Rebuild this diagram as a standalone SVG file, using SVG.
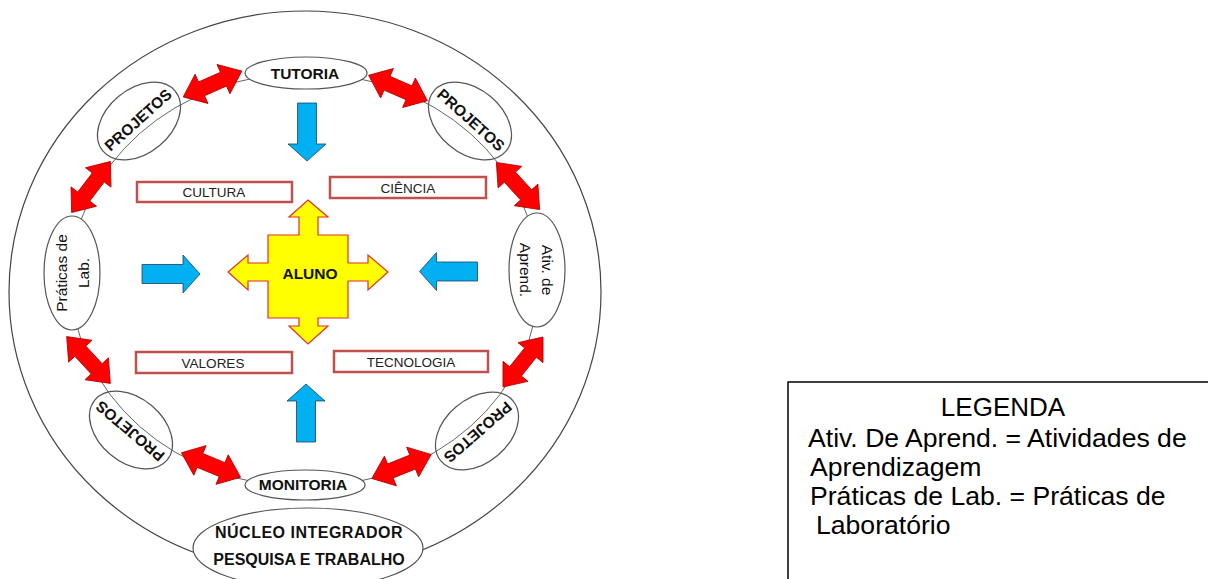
<svg xmlns="http://www.w3.org/2000/svg" xmlns:xlink="http://www.w3.org/1999/xlink" width="1208" height="579" viewBox="0 0 1208 579">
<style>
.node{fill:#fff;stroke:#555;stroke-width:1.2}
.proj{fill:none;stroke:#555;stroke-width:1.2}
.ring{fill:none;stroke:#666;stroke-width:1}
.bold{font-family:"Liberation Sans",Arial,sans-serif;font-weight:bold;font-size:15.5px;fill:#111;text-anchor:middle}
.reg{font-family:"Liberation Sans",Arial,sans-serif;font-size:15.5px;fill:#111;text-anchor:middle}
.box{fill:#fff;stroke:#c0504d;stroke-width:2.5}
.boxt{font-family:"Liberation Sans",Arial,sans-serif;font-size:13.5px;fill:#222;text-anchor:middle}
.red{fill:#ff0000;stroke:#b00000;stroke-width:0.8}
.blue{fill:#00b0f0;stroke:#1f4060;stroke-width:0.8}
.leg{font-family:"Liberation Sans",Arial,sans-serif;font-size:26.6px;fill:#000}
</style>
<defs>
<path id="dbl" d="M -32 0 L -12 -16 L -12 -7.5 L 12 -7.5 L 12 -16 L 32 0 L 12 16 L 12 7.5 L -12 7.5 L -12 16 Z"/>
<path id="blu" d="M -29 -9.5 L 12 -9.5 L 12 -19 L 29 0 L 12 19 L 12 9.5 L -29 9.5 Z"/>
</defs>

<ellipse id="outer" cx="305" cy="292" rx="296" ry="281" fill="none" stroke="#444" stroke-width="1.2"/>
<ellipse class="ring" cx="305" cy="280" rx="234" ry="207"/>

<g id="connectors">
<use xlink:href="#dbl" class="red" transform="translate(212.5,84) rotate(-23.8)"/>
<use xlink:href="#dbl" class="red" transform="translate(398,88) rotate(23.4)"/>
<use xlink:href="#dbl" class="red" transform="translate(518,186) rotate(47.5)"/>
<use xlink:href="#dbl" class="red" transform="translate(523,362) rotate(-51.3)"/>
<use xlink:href="#dbl" class="red" transform="translate(401.5,466.5) rotate(-22)"/>
<use xlink:href="#dbl" class="red" transform="translate(211,465) rotate(22.5)"/>
<use xlink:href="#dbl" class="red" transform="translate(88.5,360) rotate(47)"/>
<use xlink:href="#dbl" class="red" transform="translate(91,187) rotate(-52.8)"/>
<use xlink:href="#blu" class="blue" transform="translate(307,132) rotate(90)"/>
<use xlink:href="#blu" class="blue" transform="translate(306,413) rotate(-90)"/>
<use xlink:href="#blu" class="blue" transform="translate(171,274)"/>
<use xlink:href="#blu" class="blue" transform="translate(448.5,271.5) rotate(180)"/>
</g>

<g id="tutoria">
<ellipse class="node" cx="306" cy="73" rx="61" ry="16"/>
<text class="bold" x="305" y="79">TUTORIA</text>
</g>
<g id="projetos-tl">
<ellipse class="proj" cx="0" cy="0" rx="47" ry="32" transform="translate(139,121) rotate(-40)"/>
<text class="bold" x="0" y="4" transform="translate(139,121) rotate(-42)">PROJETOS</text>
</g>
<g id="projetos-tr">
<ellipse class="proj" cx="0" cy="0" rx="47" ry="32" transform="translate(470,121) rotate(40)"/>
<text class="bold" x="0" y="4" transform="translate(470,121) rotate(42)">PROJETOS</text>
</g>
<g id="praticas">
<ellipse class="node" cx="72" cy="273" rx="28" ry="57"/>
<text class="reg" transform="translate(72,273) rotate(-90)"><tspan x="0" y="-5">Práticas de</tspan><tspan x="0" y="17">Lab.</tspan></text>
</g>
<g id="ativ">
<ellipse class="node" cx="537" cy="270" rx="28" ry="57"/>
<text class="reg" transform="translate(537,270) rotate(90)"><tspan x="0" y="-5">Ativ. de</tspan><tspan x="0" y="17">Aprend.</tspan></text>
</g>
<g id="projetos-bl">
<ellipse class="proj" cx="0" cy="0" rx="47" ry="32" transform="translate(131,430) rotate(40)"/>
<text class="bold" x="0" y="4" transform="translate(131,430) rotate(220)">PROJETOS</text>
</g>
<g id="projetos-br">
<ellipse class="proj" cx="0" cy="0" rx="47" ry="32" transform="translate(477,431) rotate(-40)"/>
<text class="bold" x="0" y="4" transform="translate(477,431) rotate(139)">PROJETOS</text>
</g>
<g id="monitoria">
<ellipse class="node" cx="305" cy="485" rx="60" ry="15"/>
<text class="bold" x="303" y="490">MONITORIA</text>
</g>
<g id="nucleo">
<ellipse class="node" cx="308" cy="548" rx="115" ry="40"/>
<text class="bold" x="309" y="538" style="font-size:16px;letter-spacing:0.5px">NÚCLEO INTEGRADOR</text>
<text class="bold" x="309" y="565" style="font-size:16px">PESQUISA E TRABALHO</text>
</g>

<g id="cultura"><rect class="box" x="137" y="182" width="155" height="20"/><text class="boxt" x="214" y="197">CULTURA</text></g>
<g id="ciencia"><rect class="box" x="330" y="177" width="156" height="21"/><text class="boxt" x="408" y="193">CIÊNCIA</text></g>
<g id="valores"><rect class="box" x="136" y="352" width="156" height="21"/><text class="boxt" x="213" y="368">VALORES</text></g>
<g id="tecnologia"><rect class="box" x="334" y="351" width="154" height="21"/><text class="boxt" x="411" y="367">TECNOLOGIA</text></g>

<g id="aluno">
<polygon fill="#ffff00" stroke="#e0302a" stroke-width="1.2" points="308,200 328,217 318,217 318,235 348,235 348,263 368,263 368,255 388,272 368,290 368,281 348,281 348,318 318,318 318,326 328,326 308,344 289,326 299,326 299,318 268,318 268,281 248,281 248,290 228,272 248,255 248,263 268,263 268,235 299,235 299,217 289,217"/>
<text class="bold" x="310" y="279">ALUNO</text>
</g>

<g id="legenda">
<rect x="788" y="382" width="440" height="220" fill="#fff" stroke="#000" stroke-width="1.5"/>
<text class="leg" x="1003" y="416" text-anchor="middle" style="font-size:26px">LEGENDA</text>
<text class="leg" x="808" y="447">Ativ. De Aprend. = Atividades de</text>
<text class="leg" x="810" y="476">Aprendizagem</text>
<text class="leg" x="810" y="505">Práticas de Lab. = Práticas de</text>
<text class="leg" x="816" y="534">Laboratório</text>
</g>
</svg>
